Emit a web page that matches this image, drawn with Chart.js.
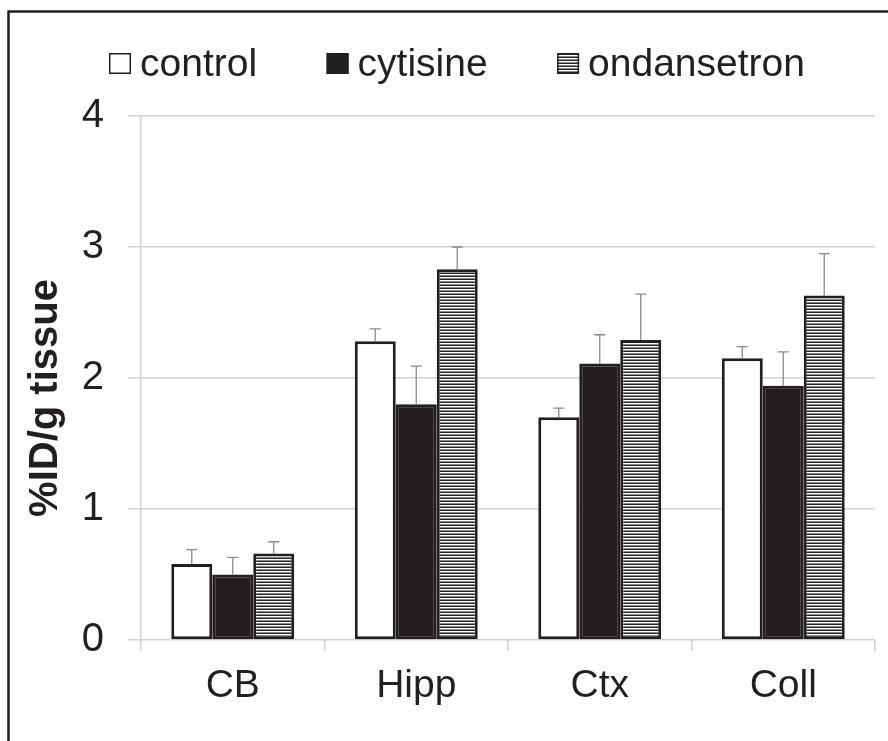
<!DOCTYPE html>
<html><head><meta charset="utf-8">
<style>html,body{margin:0;padding:0;background:#fff;}</style>
<script src="https://cdn.jsdelivr.net/npm/chart.js@4/dist/chart.umd.min.js"></script>
</head><body>
<canvas id="c" width="888" height="741"></canvas>
<script>
const categories = ['CB', 'Hipp', 'Ctx', 'Coll'];
const seriesNames = ['control', 'cytisine', 'ondansetron'];
const controlValues = [0.58, 2.28, 1.70, 2.15];
const cytisineValues = [0.50, 1.80, 2.11, 1.94];
const ondansetronValues = [0.66, 2.83, 2.29, 2.63];
const controlErrors = [0.11, 0.095, 0.07, 0.09];
const cytisineErrors = [0.13, 0.29, 0.22, 0.26];
const ondansetronErrors = [0.09, 0.17, 0.35, 0.32];
const yTickValues = [0, 1, 2, 3, 4];
const yTitle = '%ID/g tissue';

const FONT = '"Liberation Sans", Arial, Helvetica, sans-serif';
const INK = '#231f20';
const GRID = '#d2d2d2';

const canvas = document.getElementById('c');
const mainCtx = canvas.getContext('2d');

function makeStripes() {
  const c = document.createElement('canvas');
  c.width = 4; c.height = 3;
  const x = c.getContext('2d');
  x.fillStyle = '#ffffff'; x.fillRect(0, 0, 4, 3);
  x.fillStyle = '#262626'; x.fillRect(0, 0, 4, 1);
  x.fillStyle = '#8a8a8a'; x.fillRect(0, 2, 4, 1);
  return mainCtx.createPattern(c, 'repeat');
}
const stripes = makeStripes();

const errorBarPlugin = {
  id: 'errbars',
  afterDatasetsDraw(chart) {
    const ctx = chart.ctx, y = chart.scales.y;
    ctx.save();
    ctx.strokeStyle = '#8a8a8a';
    ctx.lineWidth = 1.3;
    chart.data.datasets.forEach((ds, di) => {
      const meta = chart.getDatasetMeta(di);
      meta.data.forEach((bar, i) => {
        const v = ds.data[i], e = ds.errors[i];
        const yv = y.getPixelForValue(v);
        const yt = y.getPixelForValue(v + e);
        ctx.beginPath();
        ctx.moveTo(bar.x, yv); ctx.lineTo(bar.x, yt);
        ctx.moveTo(bar.x - 5.5, yt); ctx.lineTo(bar.x + 5.5, yt);
        ctx.stroke();
      });
    });
    ctx.restore();
  }
};

const decorPlugin = {
  id: 'decor',
  afterDraw(chart) {
    const ctx = chart.ctx;
    ctx.save();
    // frame
    ctx.strokeStyle = INK; ctx.lineWidth = 2.5;
    ctx.beginPath();
    ctx.moveTo(8.5, 741); ctx.lineTo(8.5, 11.5); ctx.lineTo(888, 11.5);
    ctx.stroke();
    // legend
    ctx.font = '39px ' + FONT;
    ctx.textBaseline = 'alphabetic';
    ctx.textAlign = 'left';
    let lx = 109;
    const ly = 53;
    chart.data.datasets.forEach(ds => {
      ctx.fillStyle = ds.backgroundColor;
      ctx.fillRect(lx, ly, 22, 21);
      ctx.strokeStyle = INK; ctx.lineWidth = 1.5;
      ctx.strokeRect(lx + 0.75, ly + 0.75, 20.5, 19.5);
      ctx.fillStyle = INK;
      ctx.fillText(ds.label, lx + 31, 76);
      lx += 31 + ctx.measureText(ds.label).width + 69.5;
    });
    // y title
    ctx.font = 'bold 40px ' + FONT;
    ctx.translate(57, 398);
    ctx.rotate(-Math.PI / 2);
    ctx.textAlign = 'center';
    ctx.fillStyle = INK;
    ctx.fillText(yTitle, 0, 0);
    ctx.restore();
  }
};

const datasets = [
  { label: seriesNames[0], data: controlValues, errors: controlErrors, backgroundColor: '#ffffff' },
  { label: seriesNames[1], data: cytisineValues, errors: cytisineErrors, backgroundColor: INK },
  { label: seriesNames[2], data: ondansetronValues, errors: ondansetronErrors, backgroundColor: stripes }
].map(d => Object.assign(d, { borderColor: INK, borderWidth: 3, borderSkipped: false }));

new Chart(canvas, {
  type: 'bar',
  data: { labels: categories, datasets },
  options: {
    responsive: false,
    animation: false,
    devicePixelRatio: 1,
    categoryPercentage: 0.67,
    barPercentage: 1.0,
    layout: { autoPadding: false, padding: { top: 116, left: 0, right: 13, bottom: 0 } },
    plugins: { legend: { display: false }, tooltip: { enabled: false } },
    scales: {
      x: {
        offset: true,
        grid: { offset: true, drawOnChartArea: false, drawTicks: true, tickLength: 11, color: GRID, lineWidth: 1.5 },
        border: { display: false },
        ticks: { font: { family: FONT, size: 39 }, color: INK, padding: 12, maxRotation: 0 },
        afterFit(s) { s.height = 101; }
      },
      y: {
        min: yTickValues[0], max: yTickValues[yTickValues.length - 1],
        afterBuildTicks(s) { s.ticks = yTickValues.map(v => ({ value: v })); },
        ticks: { font: { family: FONT, size: 40 }, color: INK, padding: 24 },
        grid: { color: GRID, lineWidth: 1.5, tickLength: 13 },
        border: { display: true, color: GRID, width: 1.5 },
        afterFit(s) { s.width = 141; }
      }
    }
  },
  plugins: [errorBarPlugin, decorPlugin]
});
</script>
</body></html>
